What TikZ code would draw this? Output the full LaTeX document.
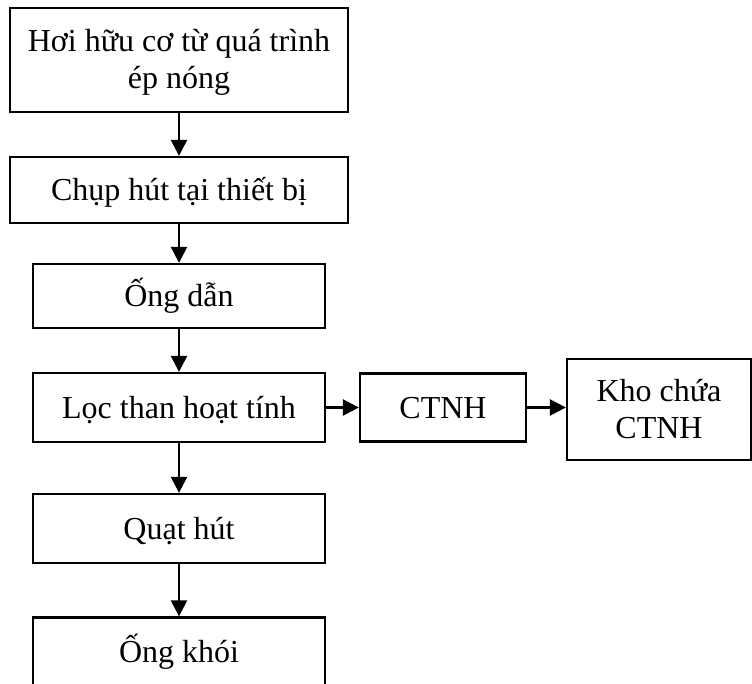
\documentclass[tikz,border=0pt]{standalone}
\usepackage{fontspec}
\setmainfont{Liberation Serif}
\usetikzlibrary{arrows.meta}
\begin{document}
\begin{tikzpicture}[x=1pt,y=-1pt,
  box/.style={draw, line width=2.3pt, inner sep=0pt, align=center,
    font=\fontsize{32}{37}\selectfont, text height=21pt, text depth=0pt},
  twoline/.style={text height=58pt},
  flow/.style={line width=2.5pt, -{Triangle[length=16pt,width=16pt]}}]
\useasboundingbox (0,0) rectangle (752,684);
\clip (0,0) rectangle (752,684);

% main process chain
\node[box, twoline, minimum width=338pt, minimum height=104pt] (src) at (179,60)
  {Hơi hữu cơ từ quá trình\\ép nóng};
\node[box, minimum width=338pt, minimum height=66pt] (hood) at (179,190)
  {Chụp hút tại thiết bị};
\node[box, minimum width=292pt, minimum height=64pt] (duct) at (179,296)
  {Ống dẫn};
\node[box, minimum width=292pt, minimum height=69pt] (filter) at (179,407.5)
  {Lọc than hoạt tính};
\node[box, minimum width=292pt, minimum height=69pt] (fan) at (179,528.5)
  {Quạt hút};
\node[box, minimum width=292pt, minimum height=69pt] (stack) at (179,652)
  {Ống khói};

% hazardous waste branch
\node[box, minimum width=166pt, minimum height=68pt] (waste) at (443,407.5)
  {CTNH};
\node[box, twoline, minimum width=184pt, minimum height=101pt] (store) at (659,409.5)
  {Kho chứa\\CTNH};

% connectors
\draw[flow] (src) -- (hood);
\draw[flow] (hood) -- (duct);
\draw[flow] (duct) -- (filter);
\draw[flow] (filter) -- (fan);
\draw[flow] (fan) -- (stack);
\draw[flow] (filter.east) -- (waste.west);
\draw[flow] (waste.east) -- (waste.east -| store.west);
\end{tikzpicture}
\end{document}
